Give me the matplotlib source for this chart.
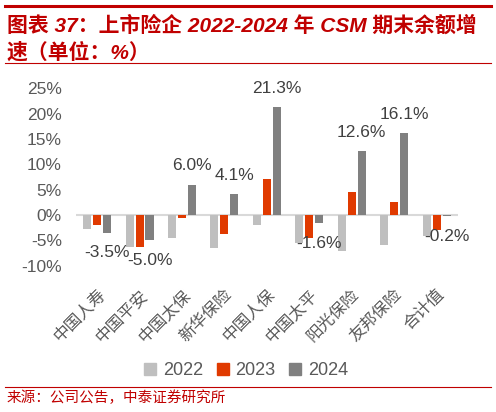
import matplotlib.pyplot as plt
import numpy as np
from matplotlib.lines import Line2D

plt.rcParams["font.family"] = ["Liberation Sans", "Noto Sans CJK SC", "DejaVu Sans"]

companies = ["中国人寿", "中国平安", "中国太保", "新华保险", "中国人保",
             "中国太平", "阳光保险", "友邦保险", "合计值"]
years = ["2022", "2023", "2024"]
csm_2022 = [-2.8, -6.4, -4.6, -6.5, -1.9, -5.5, -7.1, -5.9, -4.1]
csm_2023 = [-1.9, -6.3, -0.6, -3.7, 7.0, -4.5, 4.6, 2.6, -3.0]
csm_2024 = [-3.5, -5.0, 6.0, 4.1, 21.3, -1.6, 12.6, 16.1, -0.2]
yticks = [-10, -5, 0, 5, 10, 15, 20, 25]

colors = ["#BFBFBF", "#E03A00", "#808080"]
grey_txt = "#595959"
red_txt = "#C00000"

fig = plt.figure(figsize=(4.96, 4.12), dpi=100)
ax = fig.add_axes([0.153, 0.355, 0.770, 0.431])

x = np.arange(len(companies))
width = 0.19
step = 0.235
series = [csm_2022, csm_2023, csm_2024]
for i, (vals, c) in enumerate(zip(series, colors)):
    ax.bar(x + (i - 1) * step, vals, width=width, color=c, zorder=3)

# data labels on the 2024 series only
for xi, v in zip(x, csm_2024):
    off = 8 if v >= 0 else -9
    ax.annotate(f"{v:.1f}%", (xi + step, v), xytext=(0, off),
                textcoords="offset points", ha="center",
                va="bottom" if v >= 0 else "top",
                fontsize=12.5, color="#404040")

ax.axhline(0, color="#D9D9D9", lw=1.5, zorder=2)
ax.set_xlim(-0.5, len(companies) - 0.5)
ax.set_ylim(-10, 25)
ax.set_yticks(yticks)
ax.set_yticklabels([f"{t}%" for t in yticks])
ax.set_xticks(x)
ax.set_xticklabels(companies, rotation=45, ha="right", va="top",
                   rotation_mode="anchor")
ax.tick_params(axis="y", length=0, pad=10, labelsize=12.5, labelcolor=grey_txt)
ax.tick_params(axis="x", length=0, pad=15, labelsize=12, labelcolor=grey_txt)
for s in ax.spines.values():
    s.set_visible(False)

handles = [Line2D([], [], marker="s", ls="none", markersize=9,
                  markerfacecolor=c, markeredgecolor=c) for c in colors]
fig.legend(handles, years, loc="center", bbox_to_anchor=(0.495, 0.1),
           ncol=3, frameon=False, fontsize=13, handlelength=0.8,
           handletextpad=0.3, columnspacing=0.7, labelcolor=grey_txt)

# title block and source note
fig.add_artist(Line2D([0.01, 0.99], [0.985, 0.985], color=red_txt, lw=2.2))
fig.text(0.014, 0.939, "图表 37：上市险企 2022-2024 年 CSM 期末余额增",
         fontsize=15, fontweight="bold", fontstyle="italic",
         color=red_txt, va="center")
fig.text(0.014, 0.873, "速（单位：%）", fontsize=15, fontweight="bold",
         fontstyle="italic", color=red_txt, va="center")
fig.add_artist(Line2D([0.01, 0.99], [0.847, 0.847], color=red_txt, lw=0.8))
fig.add_artist(Line2D([0.01, 0.99], [0.061, 0.061], color=red_txt, lw=0.8))
fig.text(0.014, 0.034, "来源：公司公告，中泰证券研究所", fontsize=10.5,
         color=red_txt, va="center")

fig.savefig("out.png", dpi=100)
